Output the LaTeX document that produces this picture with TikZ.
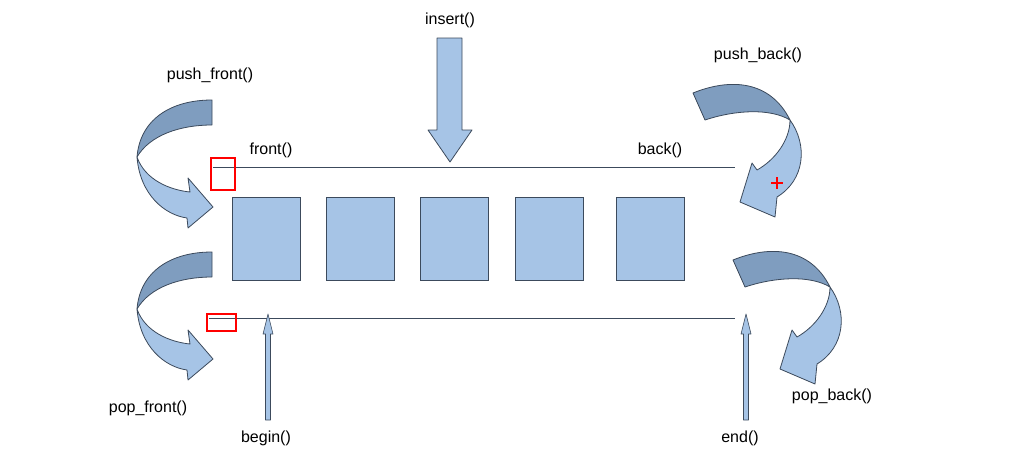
\documentclass[tikz,border=0pt]{standalone}
\usepackage{fontspec}
\setmainfont{Liberation Sans}
\begin{document}
\begin{tikzpicture}[x=1pt,y=-1pt,
  lb/.style={fill=lightb,draw=edge,line width=0.8pt,line join=round},
  db/.style={fill=darkb,draw=edge,line width=0.8pt,line join=round},
  box/.style={fill=lightb,draw=edge,line width=0.8pt},
  lab/.style={font=\fontsize{16}{18}\selectfont,inner sep=1pt},
  redr/.style={draw=red,line width=2.2pt}]
\definecolor{lightb}{HTML}{A6C4E6}
\definecolor{darkb}{HTML}{7F9DBF}
\definecolor{edge}{HTML}{3C4A5C}
\useasboundingbox (0,0) rectangle (1011,471);
% lines
\coordinate (tl) at (213,167); \coordinate (tr) at (735,167);
\coordinate (bl) at (209,318); \coordinate (br) at (735,318);
\draw[edge,line width=0.8pt] (tl) -- (tr);
\draw[edge,line width=0.8pt] (bl) -- (br);
% boxes
\foreach \n/\x in {1/232,2/326,3/420,4/515,5/616}{
  \node[box,minimum width=68pt,minimum height=83pt,inner sep=0,anchor=north west] (b\n) at (\x,197) {};}
% red rects
\draw[redr] (211,158) rectangle (235,190);
\draw[redr] (207,314) rectangle (236,331);
% insert arrow
\draw[lb] (437,38) -- (462,38) -- (462,130) -- (472,130) -- (450,162) -- (428,130) -- (437,130) -- cycle;
% begin / end arrows
\foreach \x in {268,746}{
\draw[lb,line width=0.6pt] (\x-2.5,420) -- (\x+2.5,420) -- (\x+2.5,334) -- (\x+5,334) -- (\x,314) -- (\x-5,334) -- (\x-2.5,334) -- cycle;}
% left curved arrows
\foreach \dy in {0,152}{
\begin{scope}[yshift=-\dy]
\draw[db] (212,100) .. controls (170,100) and (140,120) .. (137,157) .. controls (150,135) and (180,125) .. (212,125) -- cycle;
\draw[lb] (137,157) .. controls (140,195) and (165,215) .. (187,218) -- (188,228) -- (213,207) -- (188,178) -- (190,192) .. controls (170,190) and (145,180) .. (137,157) -- cycle;
\end{scope}}
% right curved arrows
\foreach \dx/\dy in {0/0,40/167}{
\begin{scope}[xshift=\dx,yshift=-\dy]
\draw[db] (693,93) .. controls (730,78) and (770,80) .. (790,120) .. controls (770,108) and (735,110) .. (705,120) -- cycle;
\draw[lb] (790,120) .. controls (808,145) and (805,180) .. (777,197) -- (775,217) -- (740,202) -- (752,163) -- (757,170) .. controls (775,160) and (790,140) .. (790,120) -- cycle;
\end{scope}}
\draw[red,line width=1.5pt] (771,183) -- (783,183) (777,177) -- (777,189);
% labels
\node[lab] (ins) at (450,20) {insert()};
\node[lab] (pf) at (210,75) {push\_front()};
\node[lab] (fr) at (271,150) {front()};
\node[lab] (bk) at (660,150) {back()};
\node[lab] (pb) at (758,55) {push\_back()};
\node[lab] (pof) at (148,408) {pop\_front()};
\node[lab] (bg) at (266,438) {begin()};
\node[lab] (en) at (740,438) {end()};
\node[lab] (pob) at (832,396) {pop\_back()};
\end{tikzpicture}
\end{document}
